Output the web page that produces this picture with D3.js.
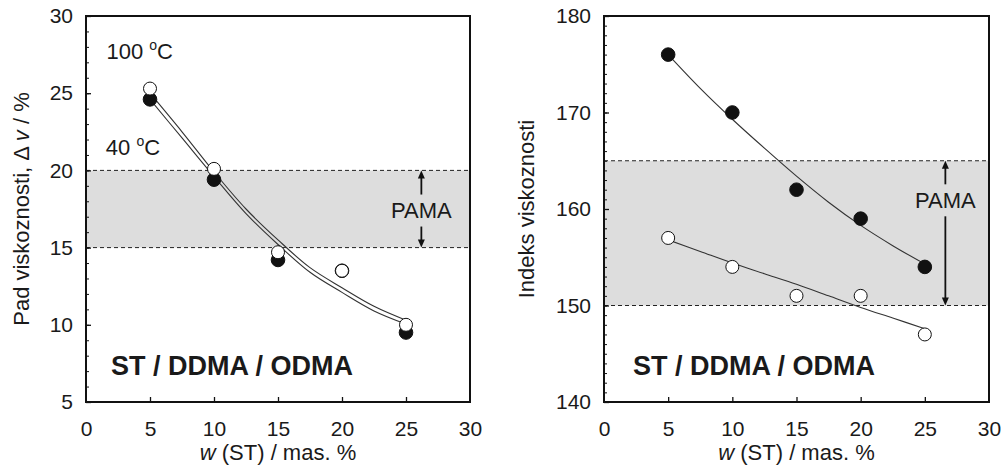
<!DOCTYPE html>
<html>
<head>
<meta charset="utf-8">
<script src="https://cdn.jsdelivr.net/npm/d3@7"></script>
<style>
  html, body { margin: 0; padding: 0; background: #ffffff; }
  svg { display: block; }
  text { font-family: "Liberation Sans", Arial, sans-serif; fill: #1a1a1a; }
</style>
</head>
<body>
<svg id="chart" width="1005" height="474"></svg>
<script>
// ---------- data ----------
const wST = [5, 10, 15, 20, 25];

// Left panel: Pad viskoznosti (Δv / %)
const padV40 = [24.6, 19.4, 14.2, 13.5, 9.5];     // filled circles (40 °C)
const padV100 = [25.3, 20.1, 14.7, 13.5, 10.0];   // open circles (100 °C)
const fitX = [5, 7.5, 10, 12.5, 15, 17.5, 20, 22.5, 25];
const padFitA = [25.0, 22.5, 19.9, 17.5, 15.5, 13.7, 12.4, 11.2, 10.3];
const padFitB = [24.6, 22.1, 19.6, 17.2, 15.2, 13.4, 12.1, 10.9, 10.05];
const padBand = [15, 20];

// Right panel: Indeks viskoznosti
const viFilled = [176, 170, 162, 159, 154];
const viOpen = [157, 154, 151, 151, 147];
const viFitFilled = [176.0, 172.5, 169.3, 166.3, 163.4, 160.7, 158.3, 156.2, 154.3];
const viFitOpen = [156.8, 155.6, 154.4, 153.3, 152.2, 151.0, 149.8, 148.7, 147.6];
const viBand = [150, 165];

// Ticks
const xTickLabels = [0, 5, 10, 15, 20, 25, 30];
const xTickMarks = [5, 10, 15, 20, 25];
const padYTicks = [5, 10, 15, 20, 25, 30];
const viYTicks = [140, 150, 160, 170, 180];

// ---------- drawing ----------
const svg = d3.select("#chart");
const FONT = '"Liberation Sans", Arial, sans-serif';

function drawPanel(cfg) {
  const g = svg.append("g");
  const x = d3.scaleLinear().domain([0, 30]).range([cfg.x0, cfg.x1]);
  const y = d3.scaleLinear().domain(cfg.yDomain).range([cfg.y1, cfg.y0]);

  // band
  g.append("rect")
    .attr("x", x(0)).attr("width", x(30) - x(0))
    .attr("y", y(cfg.band[1])).attr("height", y(cfg.band[0]) - y(cfg.band[1]))
    .attr("fill", "#dddddd");
  cfg.band.forEach(v => {
    g.append("line")
      .attr("x1", x(0)).attr("x2", x(30))
      .attr("y1", y(v)).attr("y2", y(v))
      .attr("stroke", "#222").attr("stroke-width", 1)
      .attr("stroke-dasharray", "4,3");
  });

  // minor y ticks
  const minor = d3.range(cfg.yDomain[0], cfg.yDomain[1] + 0.001, cfg.minorStep);
  g.append("g")
    .attr("transform", `translate(${cfg.x0},0)`)
    .call(d3.axisLeft(y).tickValues(minor).tickSize(-3).tickFormat(""))
    .call(a => a.select(".domain").remove())
    .call(a => a.selectAll("line").attr("stroke", "#111").attr("stroke-width", 1));

  // major y axis
  g.append("g")
    .attr("transform", `translate(${cfg.x0},0)`)
    .call(d3.axisLeft(y).tickValues(cfg.yTicks).tickSizeInner(-5).tickSizeOuter(0).tickPadding(13))
    .call(a => a.select(".domain").remove())
    .call(a => a.selectAll("line").attr("stroke", "#111").attr("stroke-width", 1.3))
    .call(a => a.selectAll("text").attr("font-family", FONT).attr("font-size", 21).attr("fill", "#1a1a1a"));

  // x axis
  const xa = g.append("g")
    .attr("transform", `translate(0,${cfg.y1})`)
    .call(d3.axisBottom(x).tickValues(xTickLabels).tickSizeInner(-5).tickSizeOuter(0).tickPadding(19))
    .call(a => a.select(".domain").remove())
    .call(a => a.selectAll("line").attr("stroke", "#111").attr("stroke-width", 1.3))
    .call(a => a.selectAll("text").attr("font-family", FONT).attr("font-size", 21).attr("fill", "#1a1a1a"));
  xa.selectAll(".tick").filter(d => !xTickMarks.includes(d)).select("line").remove();

  // frame
  g.append("rect")
    .attr("x", cfg.x0).attr("y", cfg.y0)
    .attr("width", cfg.x1 - cfg.x0).attr("height", cfg.y1 - cfg.y0)
    .attr("fill", "none").attr("stroke", "#111").attr("stroke-width", 2);

  // PAMA arrow
  const ax = x(cfg.arrowX);
  const top = y(cfg.band[1]), bot = y(cfg.band[0]);
  const ly = y(cfg.labelY);
  const gap = 16;
  g.append("line").attr("x1", ax).attr("x2", ax).attr("y1", top + 6).attr("y2", ly - gap)
    .attr("stroke", "#111").attr("stroke-width", 1.8);
  g.append("line").attr("x1", ax).attr("x2", ax).attr("y1", ly + gap).attr("y2", bot - 6)
    .attr("stroke", "#111").attr("stroke-width", 1.8);
  g.append("path").attr("d", `M${ax},${top} L${ax - 3.5},${top + 8} L${ax + 3.5},${top + 8} Z`).attr("fill", "#111");
  g.append("path").attr("d", `M${ax},${bot} L${ax - 3.5},${bot - 8} L${ax + 3.5},${bot - 8} Z`).attr("fill", "#111");
  g.append("text").attr("x", ax).attr("y", ly).attr("dy", "0.35em")
    .attr("text-anchor", "middle").attr("font-size", 22).text("PAMA");

  // fit lines
  const line = d3.line().x(d => x(d[0])).y(d => y(d[1])).curve(d3.curveCatmullRom.alpha(0.5));
  cfg.fits.forEach(f => {
    g.append("path").datum(fitX.map((v, i) => [v, f[i]]))
      .attr("d", line).attr("fill", "none").attr("stroke", "#333").attr("stroke-width", 1.1);
  });

  // points: filled first, open on top
  g.selectAll(null).data(wST.map((v, i) => [v, cfg.filled[i]])).join("circle")
    .attr("cx", d => x(d[0])).attr("cy", d => y(d[1])).attr("r", 6.8)
    .attr("fill", "#111").attr("stroke", "#111").attr("stroke-width", 1);
  g.selectAll(null).data(wST.map((v, i) => [v, cfg.open[i]])).join("circle")
    .attr("cx", d => x(d[0])).attr("cy", d => y(d[1])).attr("r", 6.5)
    .attr("fill", "#fff").attr("stroke", "#111").attr("stroke-width", 1);

  // system label
  g.append("text").attr("x", cfg.x0 + cfg.sysDx).attr("y", 375)
    .attr("font-size", 27).attr("font-weight", "bold").text("ST / DDMA / ODMA");

  // x title
  const xt = g.append("text").attr("x", (cfg.x0 + cfg.x1) / 2).attr("y", 460)
    .attr("text-anchor", "middle").attr("font-size", 22);
  xt.append("tspan").attr("font-style", "italic").text("w");
  xt.append("tspan").text(" (ST) / mas. %");

  // y title
  const yt = g.append("text")
    .attr("transform", `translate(${cfg.yTitleX},${(cfg.y0 + cfg.y1) / 2}) rotate(-90)`)
    .attr("text-anchor", "middle").attr("font-size", 22);
  cfg.yTitle(yt);

  return { x, y, g };
}

const L = drawPanel({
  x0: 86, x1: 470, y0: 16, y1: 402,
  yDomain: [5, 30], yTicks: padYTicks, minorStep: 1,
  band: padBand, arrowX: 26.2, labelY: 17.4,
  fits: [padFitA, padFitB],
  filled: padV40, open: padV100,
  sysDx: 25, yTitleX: 29,
  yTitle: t => {
    t.append("tspan").text("Pad viskoznosti, Δ ");
    t.append("tspan").attr("font-style", "italic").text("v");
    t.append("tspan").text(" / %");
  }
});

const R = drawPanel({
  x0: 604, x1: 989, y0: 16, y1: 402,
  yDomain: [140, 180], yTicks: viYTicks, minorStep: 1,
  band: viBand, arrowX: 26.6, labelY: 160.9,
  fits: [viFitFilled, viFitOpen],
  filled: viFilled, open: viOpen,
  sysDx: 29, yTitleX: 534,
  yTitle: t => { t.append("tspan").text("Indeks viskoznosti"); }
});

// temperature labels (left panel)
function tempLabel(txt, xv, yv) {
  const t = L.g.append("text").attr("x", L.x(xv)).attr("y", L.y(yv)).attr("font-size", 22);
  t.append("tspan").text(txt + " ");
  t.append("tspan").attr("font-size", 14).attr("dy", -9).text("o");
  t.append("tspan").attr("dy", 9).text("C");
}
tempLabel("100", 1.6, 27.2);
tempLabel("40", 1.55, 21.0);
</script>
</body>
</html>
